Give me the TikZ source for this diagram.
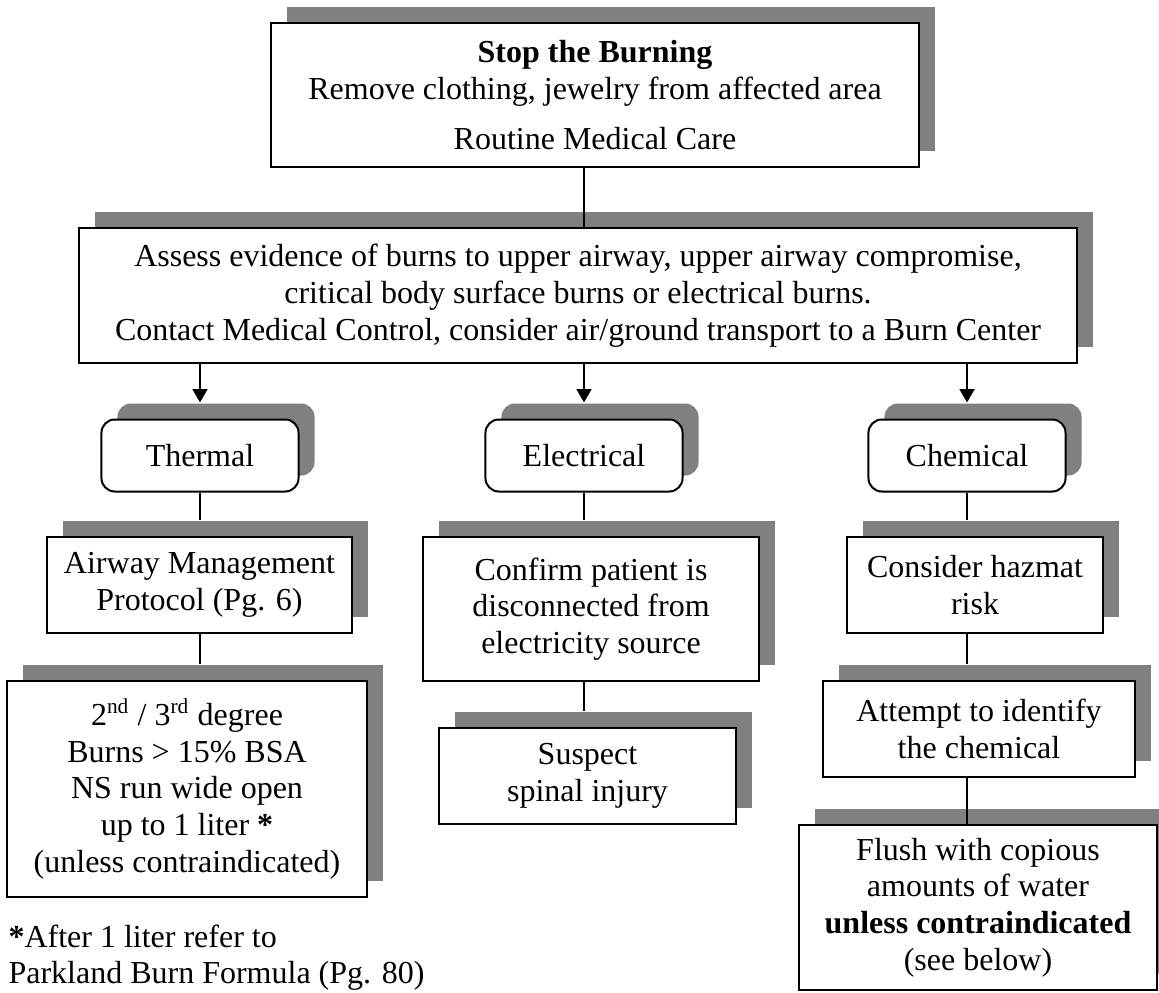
\documentclass[tikz,border=0pt]{standalone}
\usepackage{fontspec}
\setmainfont{Liberation Serif}
\usetikzlibrary{shadows,arrows.meta}

\begin{document}
\begin{tikzpicture}[x=0.375pt, y=-0.375pt,
  box/.style={draw, line width=0.75pt, fill=white, align=center, inner sep=0pt,
    font=\fontsize{12}{13.8}\selectfont,
    drop shadow={shadow xshift=6pt, shadow yshift=6pt, fill=gray, opacity=1}},
  rbox/.style={box, rounded corners=5pt},
  link/.style={line width=0.6pt, shorten >=6pt},
  arr/.style={link, -{Triangle[length=5pt, width=5.6pt]}}]
  \useasboundingbox (0,0) rectangle (1159,992);

  \node[box, minimum width=243pt, minimum height=54pt] (stop) at (595,95)
    {\textbf{Stop the Burning}\\ Remove clothing, jewelry from affected area\\[5pt] Routine Medical Care};
  \node[box, minimum width=374.25pt, minimum height=50.6pt] (assess) at (578,295.5)
    {Assess evidence of burns to upper airway, upper airway compromise,\\
     critical body surface burns or electrical burns.\\
     Contact Medical Control, consider air/ground transport to a Burn Center};

  \node[rbox, minimum width=73.9pt, minimum height=27pt] (thermal) at (200,455.5) {Thermal};
  \node[rbox, minimum width=73.9pt, minimum height=27pt] (elec) at (584,455.5) {Electrical};
  \node[rbox, minimum width=73.9pt, minimum height=27pt] (chem) at (967,455.5) {Chemical};

  \node[box, minimum width=114.4pt, minimum height=36pt] (airway) at (199.5,585)
    {Airway Management\\ Protocol (Pg. 6)};
  \node[box, minimum width=135pt, minimum height=81pt] (degree) at (187,789)
    {2\textsuperscript{nd} / 3\textsuperscript{rd} degree\\ Burns > 15\% BSA\\ NS run wide open\\
     up to 1 liter \textbf{*}\\ (unless contraindicated)};

  \node[box, minimum width=126pt, minimum height=54pt] (confirm) at (591,609)
    {Confirm patient is\\ disconnected from\\ electricity source};
  \node[box, minimum width=111.4pt, minimum height=36pt] (suspect) at (587.5,776)
    {Suspect\\ spinal injury};

  \node[box, minimum width=96pt, minimum height=36pt] (hazmat) at (975,585)
    {Consider hazmat\\ risk};
  \node[box, minimum width=117pt, minimum height=36pt] (attempt) at (979,729)
    {Attempt to identify\\ the chemical};
  \node[box, minimum width=134.25pt, minimum height=61.9pt] (flush) at (978,907.5)
    {Flush with copious\\ amounts of water\\ \textbf{unless contraindicated}\\ (see below)};

  \node[anchor=north west, align=left, inner sep=0pt, font=\fontsize{12}{13.8}\selectfont] (note) at (8,924)
    {\textbf{*}After 1 liter refer to\\ Parkland Burn Formula (Pg. 80)};

  \draw[line width=0.6pt] (elec |- stop.south) -- (elec |- assess.north);
  \draw[arr] (assess.south -| thermal) -- (thermal.north);
  \draw[arr] (assess.south -| elec) -- (elec.north);
  \draw[arr] (assess.south -| chem) -- (chem.north);

  \draw[link] (thermal.south) -- (thermal |- airway.north);
  \draw[link] (thermal |- airway.south) -- (thermal |- degree.north);

  \draw[link] (elec.south) -- (elec |- confirm.north);
  \draw[link] (elec |- confirm.south) -- (elec |- suspect.north);

  \draw[link] (chem.south) -- (chem |- hazmat.north);
  \draw[link] (chem |- hazmat.south) -- (chem |- attempt.north);
  \draw[line width=0.6pt] (chem |- attempt.south) -- (chem |- flush.north);
\end{tikzpicture}
\end{document}
